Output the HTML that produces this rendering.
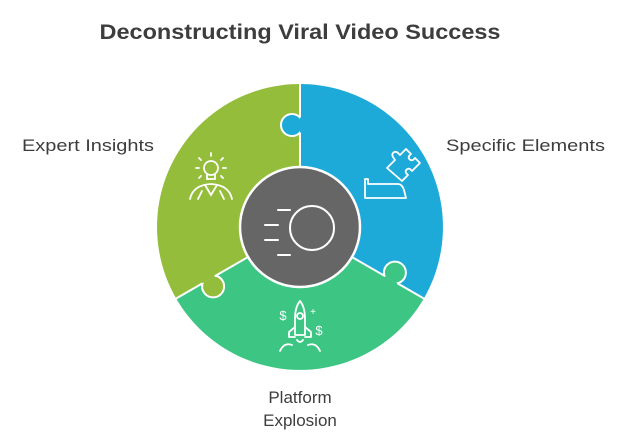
<!DOCTYPE html>
<html><head><meta charset="utf-8"><style>
html,body{margin:0;padding:0;background:#fff;width:625px;height:444px;overflow:hidden}
svg{display:block}
text{font-family:"Liberation Sans",sans-serif}
</style></head><body>
<svg width="625" height="444" viewBox="0 0 625 444">
<defs>
<clipPath id="cB"><path d="M0,0 L0,-143 A143,143 0 0 1 123.8,71.5 Z"/></clipPath>
<clipPath id="cG"><path d="M0,0 L123.8,71.5 A143,143 0 0 1 -123.8,71.5 Z"/></clipPath>
<clipPath id="cO"><path d="M0,0 L-123.8,71.5 A143,143 0 0 1 0,-143 Z"/></clipPath>
</defs>
<text x="300" y="39" text-anchor="middle" font-size="21" font-weight="bold" fill="#3d3d3d" textLength="401" lengthAdjust="spacingAndGlyphs">Deconstructing Viral Video Success</text>
<text x="22" y="151" font-size="17" fill="#3d3d3d" textLength="132" lengthAdjust="spacingAndGlyphs">Expert Insights</text>
<text x="446" y="151" font-size="17" fill="#3d3d3d" textLength="159" lengthAdjust="spacingAndGlyphs">Specific Elements</text>
<text x="300" y="403" text-anchor="middle" font-size="17" fill="#3d3d3d">Platform</text>
<text x="300" y="426" text-anchor="middle" font-size="17" fill="#3d3d3d">Explosion</text>

<g transform="translate(300,227)">
<path d="M0,0 L0,-143 A143,143 0 0 1 123.8,71.5 Z" fill="#1eaad9"/>
<path d="M0,0 L123.8,71.5 A143,143 0 0 1 -123.8,71.5 Z" fill="#3dc584"/>
<path d="M0,0 L-123.8,71.5 A143,143 0 0 1 0,-143 Z" fill="#94bd3b"/>
<!-- knobs clipped to the neighbouring sector -->
<circle cx="-8" cy="-102" r="11" fill="#1eaad9" stroke="#fff" stroke-width="2" clip-path="url(#cO)"/>
<circle cx="94.9" cy="45.6" r="11" fill="#3dc584" stroke="#fff" stroke-width="2" clip-path="url(#cB)"/>
<circle cx="-86.9" cy="59.4" r="11" fill="#94bd3b" stroke="#fff" stroke-width="2" clip-path="url(#cG)"/>
<!-- dividers with gaps at knob necks -->
<g stroke="#fff" stroke-width="2">
<line x1="0" y1="0" x2="0" y2="-94.5"/>
<line x1="0" y1="-109.5" x2="0" y2="-144"/>
<line x1="0" y1="0" x2="85.3" y2="49.3"/>
<line x1="97.4" y1="56.3" x2="124.7" y2="72"/>
<line x1="0" y1="0" x2="-85.3" y2="49.3"/>
<line x1="-97.4" y1="56.3" x2="-124.7" y2="72"/>
</g>
<circle cx="0" cy="0" r="60" fill="#666" stroke="#fff" stroke-width="2.5"/>
<g stroke="#fff" stroke-width="2" fill="none" stroke-linecap="round">
<circle cx="12" cy="1" r="22"/>
<line x1="-22" y1="-17" x2="-10" y2="-17"/>
<line x1="-35" y1="-2" x2="-22" y2="-2"/>
<line x1="-35" y1="13" x2="-22" y2="13"/>
<line x1="-22" y1="28" x2="-10" y2="28"/>
</g>
</g>

<g stroke="#fff" stroke-width="1.8" fill="none" stroke-linecap="round">
<circle cx="211" cy="168" r="7"/>
<path d="M207,174 v5 h8 v-5"/>
<line x1="211" y1="153" x2="211" y2="156"/>
<line x1="199" y1="158" x2="201" y2="160"/><line x1="223" y1="158" x2="221" y2="160"/>
<line x1="196" y1="168" x2="199" y2="168"/><line x1="223" y1="168" x2="226" y2="168"/>
<line x1="199" y1="178" x2="201" y2="176"/><line x1="223" y1="178" x2="221" y2="176"/>
<path d="M190,199 q3,-14 21,-15 q18,1 21,15"/>
<path d="M205,185 l6,10 l6,-10"/>
<path d="M198,199 l4,-8"/><path d="M224,199 l-4,-8"/>
</g>
<g stroke="#fff" stroke-width="1.8" fill="none" stroke-linejoin="round">
<path d="M365,198 v-19 h3 v5 h30 q4,0 6,6 l2,8 Z"/>
<path d="M387,168 l8,-8 l-2,-3 a3,3 0 0 1 5,-4 l2,2 l6,-6 l5,5 l-2,2 a3,3 0 0 0 4,4 l2,-2 l5,5 l-8,8 l-2,-2 a3,3 0 0 0 -4,4 l2,2 l-6,6 Z"/>
</g>
<g stroke="#fff" stroke-width="1.8" fill="none" stroke-linecap="round" stroke-linejoin="round">
<path d="M295,335 v-16 q0,-12 5,-18 q5,6 5,18 v16 Z"/>
<circle cx="300" cy="316" r="3"/>
<path d="M295,327 l-6,5 v5 h6"/><path d="M305,327 l6,5 v5 h-6"/>
<path d="M297,340 q3,4 6,0"/>
<path d="M280,351 q4,-9 12,-6"/><path d="M320,351 q-4,-9 -12,-6"/>
<text x="283" y="320" font-size="13" fill="#fff" stroke="none" text-anchor="middle">$</text>
<text x="319" y="335" font-size="13" fill="#fff" stroke="none" text-anchor="middle">$</text>
<text x="313" y="315" font-size="10" fill="#fff" stroke="none" text-anchor="middle">+</text>
</g>
</svg>
</body></html>
